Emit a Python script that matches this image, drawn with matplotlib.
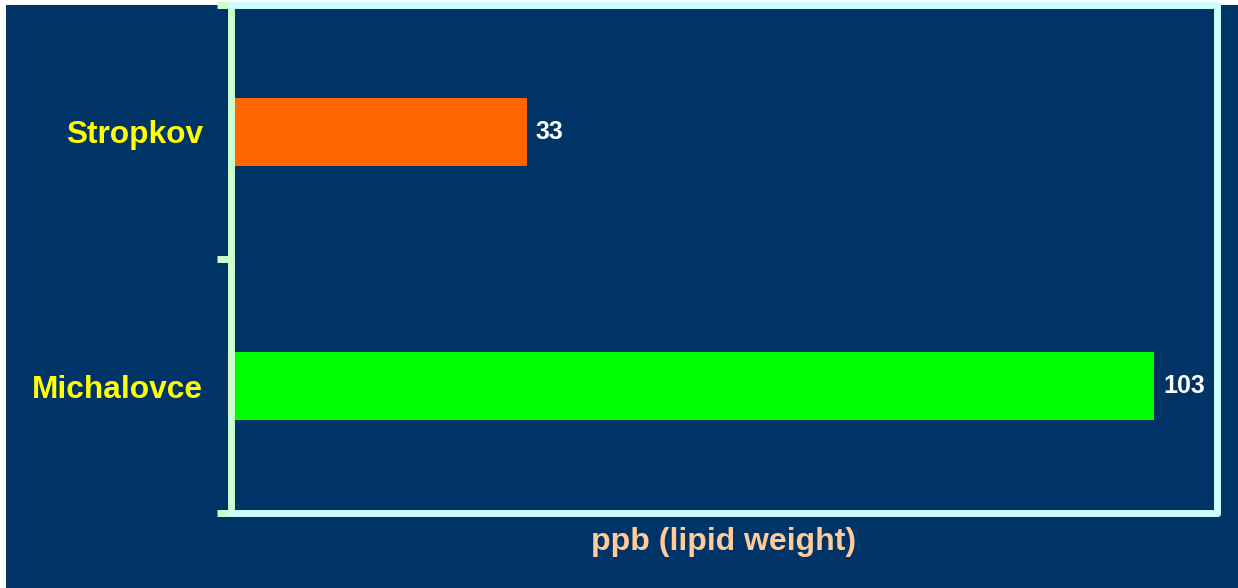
import matplotlib
matplotlib.use("Agg")
import matplotlib.pyplot as plt
from matplotlib.patches import Rectangle

plt.rcParams['font.family'] = ['Liberation Sans', 'DejaVu Sans']

categories = ["Michalovce", "Stropkov"]
values = [103, 33]
bar_colors = ["#00FF00", "#FF6600"]
xlabel = "ppb (lipid weight)"

NAVY = "#003366"
fig = plt.figure(figsize=(12.38, 5.88), dpi=100, facecolor="white")
# navy slide panel
fig.patches.append(Rectangle((6 / 1238, 0), 1 - 6 / 1238, 1 - 5 / 588,
                             transform=fig.transFigure, facecolor=NAVY,
                             edgecolor="none", zorder=-10))

ax = fig.add_axes([231 / 1238, 1 - 513 / 588, (1217 - 231) / 1238, (513 - 5) / 588])
ax.set_zorder(1)
ax.set_facecolor(NAVY)

ypos = list(range(len(categories)))
ax.barh(ypos, values, height=0.27, color=bar_colors, zorder=3)
for y, v in zip(ypos, values):
    ax.text(v + 1.0, y, str(v), color="white", fontsize=18, fontweight="bold",
            va="center", ha="left")

ax.set_xlim(0, 110)
ax.set_ylim(-0.5, 1.5)

ax.set_yticks(ypos)
ax.set_yticklabels(categories)
ax.tick_params(axis="y", which="major", length=0, pad=20, labelsize=22.8,
               labelcolor="#FFFF00")
for lab in ax.get_yticklabels():
    lab.set_fontweight("bold")
ax.set_yticks([-0.5, 0.5, 1.5], minor=True)
ax.tick_params(axis="y", which="minor", length=10, width=5, color="#CCFFCC")
ax.set_xticks([])

ax.set_xlabel(xlabel, color="#FFCC99", fontsize=23, fontweight="bold", labelpad=10)

for side, sp in ax.spines.items():
    sp.set_linewidth(5)
    sp.set_color("#CCFFCC" if side == "left" else "#CCFFFF")
    sp.set_capstyle("round")
    sp.set_zorder(4)

fig.savefig("out.png", dpi=100, facecolor="white")
